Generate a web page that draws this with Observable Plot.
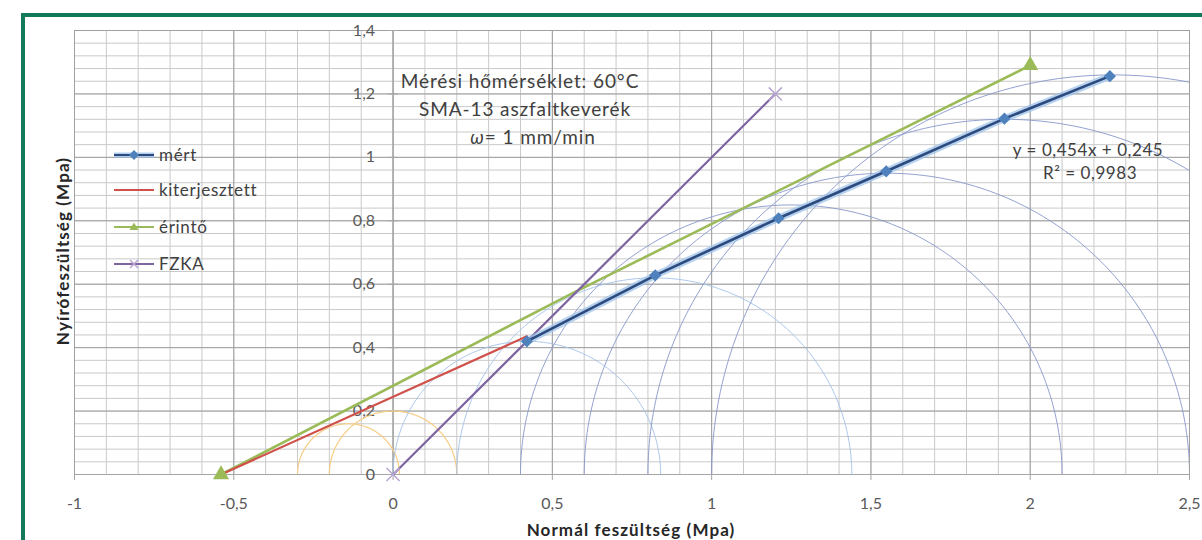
<!DOCTYPE html>
<html>
<head>
<meta charset="utf-8">
<script src="https://cdn.jsdelivr.net/npm/d3@7"></script>
<script src="https://cdn.jsdelivr.net/npm/@observablehq/plot@0.6"></script>
<style>
  html, body { margin: 0; padding: 0; background: #fff; }
  #wrap { position: relative; width: 1202px; height: 540px; overflow: hidden;
          font-family: Lato, "Open Sans", sans-serif; color: #404040; }
  #keret { position: absolute; left: 21px; top: 13px; width: 1300px; height: 700px;
           border: 4px solid #13795b; box-sizing: border-box; pointer-events: none; z-index: 5; }
  #chart { position: absolute; left: 0; top: 0; }
  .note { position: absolute; text-align: center; white-space: nowrap; transform: translate(-50%, -50%); }
  .cim { position: absolute; font-weight: bold; font-size: 17px; letter-spacing: 1.1px; white-space: nowrap; color: #262626; }
  .leg { position: absolute; left: 114px; display: flex; align-items: center; font-size: 17px; letter-spacing: 0.7px; }
  .leg svg { margin-right: 3px; }
</style>
</head>
<body>
<div id="wrap">
  <div id="chart"></div>
  <div id="keret"></div>

  <div class="note" style="left:520px; top:80px; font-size:19px; letter-spacing:0.9px;">Mérési hőmérséklet: 60°C</div>
  <div class="note" style="left:525px; top:108px; font-size:19px; letter-spacing:0.9px;">SMA-13 aszfaltkeverék</div>
  <div class="note" style="left:533px; top:136px; font-size:19px; letter-spacing:0.9px;"><i>ω</i>= 1 mm/min</div>

  <div class="note" style="left:1088px; top:149px; font-size:17px; letter-spacing:0.55px;">y = 0,454x + 0,245</div>
  <div class="note" style="left:1090px; top:172px; font-size:17px; letter-spacing:0.55px;">R² = 0,9983</div>

  <div id="legend"></div>

  <div class="cim" style="left:62px; top:251px; transform: translate(-50%,-50%) rotate(-90deg);">Nyírófeszültség (Mpa)</div>
  <div class="cim" style="left:631px; top:529px; transform: translate(-50%,-50%);">Normál feszültség (Mpa)</div>
</div>

<script>
// Measured Mohr-circle tops (normal stress p, shear stress q), MPa
const mertX = [0.42, 0.823, 1.21, 1.548, 1.919, 2.25];
const mertY = [0.42, 0.628, 0.808, 0.956, 1.122, 1.256];

// Linear fit of the measured points
const fitSlope = 0.454;
const fitIntercept = 0.245;
// Extension of the fit down to the normal-stress axis
const kiterjX = [-0.54, 0.42];

// Tangent envelope
const erintoX = [-0.54, 0.57, 2.0];
const erintoY = [0, 0.575, 1.29];

// FZKA line
const fzkaX = [0, 1.2];
const fzkaY = [0, 1.2];

// Mohr circles: minor and major principal stresses
const korSigma3 = [0, 0.2, 0.4, 0.6, 0.8, 1.0];
const korSigma1 = [0.84, 1.44, 2.1, 2.5, 3.04, 3.52];
const korSzin = ["#a3c1e8", "#a3c1e8", "#8797cc", "#8797cc", "#8797cc", "#8797cc"];

// Small auxiliary circles near the origin
const kisSigma3 = [-0.3, -0.2];
const kisSigma1 = [0.02, 0.2];

// Axis ticks and labels
const xTicks = [-1, -0.5, 0, 0.5, 1, 1.5, 2, 2.5];
const xLabels = ["-1", "-0,5", "0", "0,5", "1", "1,5", "2", "2,5"];
const yTicks = [0, 0.2, 0.4, 0.6, 0.8, 1, 1.2, 1.4];
const yLabels = ["0", "0,2", "0,4", "0,6", "0,8", "1", "1,2", "1,4"];

// Grid lines (0.1 along x, 0.04 along y)
const gridX = d3.range(-10, 26).map(i => i / 10);
const gridY = d3.range(0, 36).map(i => +(i * 0.04).toFixed(2));

// Colours
const C = {
  mert: "#2c4a7e", mertGlow: "#9fc3ea", mertMark: "#4f81bd",
  kiterj: "#d0504a", erinto: "#9bbb59", fzka: "#7f64a2", fzkaMark: "#b7a6d3",
  kis: "#f6cd85"
};

// Tables
const mert = mertX.map((x, i) => ({x, y: mertY[i]}));
const kiterj = kiterjX.map(x => ({x, y: fitSlope * x + fitIntercept}));
const erinto = erintoX.map((x, i) => ({x, y: erintoY[i]}));
const erintoEnds = [erinto[0], erinto[erinto.length - 1]];
const fzka = fzkaX.map((x, i) => ({x, y: fzkaY[i]}));

// Upper half of each Mohr circle, sampled every degree
function halfCircles(s3, s1, colors) {
  const out = [];
  s3.forEach((a, k) => {
    const c = (s1[k] + a) / 2, r = (s1[k] - a) / 2;
    for (let j = 0; j <= 180; j++) {
      const t = Math.PI * j / 180;
      out.push({kor: k, szin: colors ? colors[k] : C.kis, x: c + r * Math.cos(t), y: r * Math.sin(t)});
    }
  });
  return out;
}
const korok = halfCircles(korSigma3, korSigma1, korSzin);
const kisKorok = halfCircles(kisSigma3, kisSigma1);

const tickFont = {fontSize: 16, fill: "#595959"};

const chart = Plot.plot({
  width: 1202,
  height: 540,
  marginLeft: 74,
  marginRight: 13,
  marginTop: 30,
  marginBottom: 66,
  style: {background: "transparent", fontFamily: "Lato, 'Open Sans', sans-serif"},
  x: {domain: [-1, 2.5], axis: null},
  y: {domain: [0, 1.4], axis: null},
  marks: [
    // grid
    Plot.ruleX(gridX, {y1: 0, y2: 1.4, stroke: "#c9c9c9", strokeWidth: 1}),
    Plot.ruleY(gridY, {x1: -1, x2: 2.5, stroke: "#c9c9c9", strokeWidth: 1}),
    Plot.ruleX(xTicks, {y1: 0, y2: 1.4, stroke: "#a0a0a0", strokeWidth: 1}),
    Plot.ruleY(yTicks, {x1: -1, x2: 2.5, stroke: "#a0a0a0", strokeWidth: 1}),
    // axes through the origin
    Plot.ruleY([0], {x1: -1, x2: 2.5, stroke: "#a6a6a6", strokeWidth: 1.2}),
    Plot.ruleX([0], {y1: 0, y2: 1.4, stroke: "#a6a6a6", strokeWidth: 1.2}),
    Plot.ruleX(xTicks, {y1: 0, y2: 0, insetBottom: -6, stroke: "#a6a6a6"}),
    Plot.ruleY(yTicks, {x1: 0, x2: 0, insetLeft: -5, insetRight: -5, stroke: "#a6a6a6"}),
    Plot.text(xTicks, {x: d => d, y: 0, text: (d, i) => xLabels[i], dy: 29, ...tickFont}),
    Plot.text(yTicks, {x: 0, y: d => d, text: (d, i) => yLabels[i], dx: -18, textAnchor: "end", ...tickFont}),
    // Mohr circles
    Plot.line(kisKorok, {x: "x", y: "y", z: "kor", stroke: C.kis, strokeWidth: 1.2, clip: true}),
    Plot.line(korok, {x: "x", y: "y", z: "kor", stroke: "szin", strokeWidth: 1, strokeOpacity: 0.9, clip: true}),
    // envelopes
    Plot.line(erinto, {x: "x", y: "y", stroke: C.erinto, strokeWidth: 2.6}),
    Plot.line(kiterj, {x: "x", y: "y", stroke: C.kiterj, strokeWidth: 2.2}),
    Plot.line(fzka, {x: "x", y: "y", stroke: C.fzka, strokeWidth: 2.2}),
    Plot.line(mert, {x: "x", y: "y", stroke: C.mertGlow, strokeWidth: 7, strokeOpacity: 0.75}),
    Plot.line(mert, {x: "x", y: "y", stroke: C.mert, strokeWidth: 2.6}),
    // markers
    Plot.dot(erintoEnds, {x: "x", y: "y", symbol: "triangle", r: 6, fill: C.erinto}),
    Plot.dot(fzka, {x: "x", y: "y", symbol: "times", r: 6, stroke: C.fzkaMark, strokeWidth: 1.5}),
    Plot.dot(mert, {x: "x", y: "y", symbol: "diamond2", r: 5.5, fill: C.mertMark})
  ]
});
document.getElementById("chart").appendChild(chart);

// Legend
const legendItems = [
  {label: "mért", stroke: C.mert, glow: C.mertGlow, mark: "diamond", color: C.mertMark},
  {label: "kiterjesztett", stroke: C.kiterj},
  {label: "érintő", stroke: C.erinto, mark: "triangle", color: C.erinto},
  {label: "FZKA", stroke: C.fzka, mark: "times", color: C.fzkaMark}
];
const legendTops = [155, 190, 227, 264];
const legend = document.getElementById("legend");
legendItems.forEach((it, i) => {
  const div = document.createElement("div");
  div.className = "leg";
  div.style.top = (legendTops[i] - 11) + "px";
  let sym = "";
  if (it.mark === "diamond") sym = `<path d="M20,5 L25,10 L20,15 L15,10Z" fill="${it.color}"/>`;
  if (it.mark === "triangle") sym = `<path d="M20,5.5 L24.5,13 L15.5,13Z" fill="${it.color}"/>`;
  if (it.mark === "times") sym = `<path d="M16,6 L24,14 M24,6 L16,14" stroke="${it.color}" stroke-width="1.5"/>`;
  const glow = it.glow ? `<line x1="0" y1="10" x2="40" y2="10" stroke="${it.glow}" stroke-width="5" opacity="0.8"/>` : "";
  div.innerHTML = `<svg width="42" height="20">${glow}<line x1="0" y1="10" x2="40" y2="10" stroke="${it.stroke}" stroke-width="2.2"/>${sym}</svg><span>${it.label}</span>`;
  legend.appendChild(div);
});
</script>
</body>
</html>
